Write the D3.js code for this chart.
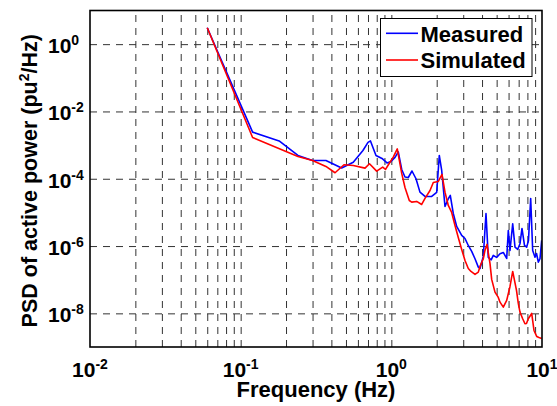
<!DOCTYPE html>
<html>
<head>
<meta charset="utf-8">
<script src="https://cdn.jsdelivr.net/npm/d3@7"></script>
<style>
body { margin: 0; background: #fff; }
svg { display: block; font-family: "Liberation Sans", Arial, sans-serif; font-weight: bold; }
</style>
</head>
<body>
<svg id="chart"></svg>
<script>
// measured PSD (blue)
var measuredFreq = [0.060, 0.120, 0.180, 0.240, 0.300, 0.368, 0.468, 0.559, 0.648, 0.700,
	0.727, 0.791, 0.867, 0.936, 0.995, 1.058, 1.112, 1.172, 1.232, 1.296,
	1.371, 1.458, 1.549, 1.673, 1.853, 2.000, 2.081, 2.159, 2.271, 2.388,
	2.462, 2.577, 2.715, 2.931, 3.083, 3.242, 3.415, 3.592, 3.778, 3.877,
	4.077, 4.249, 4.400, 4.600, 4.750, 5.000, 5.263, 5.535, 5.830, 5.974,
	6.132, 6.391, 6.620, 6.900, 7.143, 7.365, 7.652, 7.913, 8.133, 8.412,
	8.673, 8.985, 9.200, 9.450, 9.698, 9.954];
var measuredPsd = [3.07, 2.43e-3, 1.33e-3, 4.93e-4, 3.50e-4, 3.50e-4, 2.09e-4, 3.11e-4, 6.93e-4, 1.20e-3,
	1.33e-3, 4.93e-4, 4.01e-4, 2.95e-4, 3.27e-4, 4.30e-4, 6.26e-4, 1.89e-4, 1.13e-4, 1.09e-4,
	1.70e-4, 1.00e-4, 4.00e-5, 2.98e-5, 2.98e-5, 3.92e-5, 4.93e-4, 1.76e-4, 1.50e-5, 2.54e-5,
	3.19e-5, 9.31e-6, 3.82e-6, 2.07e-6, 1.68e-6, 1.04e-6, 6.91e-7, 4.19e-7, 2.36e-7, 2.16e-7,
	4.91e-7, 9.31e-6, 4.58e-7, 3.90e-7, 5.26e-7, 4.60e-7, 5.90e-7, 6.45e-7, 4.28e-7, 2.91e-6,
	7.40e-7, 4.60e-6, 9.27e-7, 8.00e-7, 1.17e-6, 3.33e-6, 1.04e-6, 9.27e-7, 1.47e-6, 2.60e-5,
	7.40e-7, 4.68e-7, 6.00e-7, 3.32e-7, 4.19e-7, 1.47e-6];

// simulated PSD (red)
var simulatedFreq = [0.060, 0.120, 0.240, 0.300, 0.368, 0.423, 0.485, 0.559, 0.669, 0.716,
	0.799, 0.876, 0.915, 0.965, 1.030, 1.095, 1.172, 1.232, 1.316, 1.365,
	1.473, 1.590, 1.673, 1.806, 1.899, 2.050, 2.169, 2.271, 2.388, 2.515,
	2.646, 2.782, 2.931, 3.083, 3.242, 3.379, 3.592, 3.778, 3.877, 4.077,
	4.184, 4.314, 4.516, 4.635, 4.875, 5.128, 5.263, 5.535, 5.830, 6.132,
	6.391, 6.772, 6.961, 7.143, 7.444, 7.709, 7.889, 8.110, 8.543, 8.850,
	9.222, 9.550, 9.954];
var simulatedPsd = [3.07, 1.69e-3, 4.60e-4, 3.50e-4, 2.32e-4, 1.51e-4, 2.61e-4, 2.48e-4, 2.07e-4, 2.79e-4,
	1.68e-4, 2.21e-4, 1.89e-4, 2.79e-4, 4.38e-4, 7.68e-4, 1.44e-4, 5.51e-5, 2.26e-5, 2.02e-5,
	2.12e-5, 1.72e-5, 2.60e-5, 4.49e-5, 7.76e-5, 8.31e-5, 1.34e-4, 4.00e-5, 1.61e-5, 9.97e-6,
	4.09e-6, 1.80e-6, 7.93e-7, 3.73e-7, 2.16e-7, 1.76e-7, 1.43e-7, 1.68e-7, 2.48e-7, 4.19e-7,
	7.40e-7, 1.12e-6, 3.04e-7, 1.02e-7, 4.27e-8, 2.97e-8, 2.15e-8, 1.53e-8, 2.42e-8, 6.30e-8,
	1.76e-7, 4.79e-8, 1.97e-8, 1.09e-8, 6.91e-9, 4.91e-9, 5.01e-9, 6.91e-9, 9.93e-9, 3.10e-9,
	2.06e-9, 1.92e-9, 1.80e-9];

var xTicks = [0.01, 0.1, 1, 10];
var xTickExp = ["-2", "-1", "0", "1"];
var yTicks = [1, 1e-2, 1e-4, 1e-6, 1e-8];
var yTickExp = ["0", "-2", "-4", "-6", "-8"];
var seriesNames = ["Measured", "Simulated"];
var seriesColors = ["#0000ff", "#ff0000"];

var svgWidth = 557, svgHeight = 406;
var plotLeft = 90, plotRight = 542, plotTop = 10.5, plotBottom = 347;

var svg = d3.select("#chart")
	.attr("width", svgWidth)
	.attr("height", svgHeight);

svg.append("rect")
	.attr("width", svgWidth)
	.attr("height", svgHeight)
	.attr("fill", "#fff");

var xScale = d3.scaleLog()
	.domain([0.01, 10])
	.range([plotLeft, plotRight]);

var yScale = d3.scaleLog()
	.domain([1e-9, 10])
	.range([plotBottom, plotTop]);

// grid: every 1..9 per decade on x, labelled decades on y
var gridX = xScale.ticks().filter(function(d) { return d > 0.01 && d < 10; });

var xGrid = svg.append("g")
	.attr("transform", "translate(0," + plotBottom + ")")
	.call(d3.axisBottom(xScale).tickValues(gridX).tickSize(-(plotBottom - plotTop)).tickFormat(""));
var yGrid = svg.append("g")
	.attr("transform", "translate(" + plotLeft + ",0)")
	.call(d3.axisLeft(yScale).tickValues(yTicks).tickSize(-(plotRight - plotLeft)).tickFormat(""));

[xGrid, yGrid].forEach(function(g) {
	g.select(".domain").remove();
	g.selectAll("line")
		.attr("stroke", "#333")
		.attr("stroke-width", 1)
		.attr("stroke-dasharray", "7,6");
});

svg.append("clipPath").attr("id", "plotclip")
	.append("rect")
	.attr("x", plotLeft).attr("y", plotTop)
	.attr("width", plotRight - plotLeft).attr("height", plotBottom - plotTop);

var line = d3.line()
	.x(function(d) { return xScale(d[0]); })
	.y(function(d) { return yScale(d[1]); });

var series = [d3.zip(measuredFreq, measuredPsd), d3.zip(simulatedFreq, simulatedPsd)];

svg.append("g")
	.attr("clip-path", "url(#plotclip)")
	.selectAll("path")
	.data(series)
	.enter()
	.append("path")
	.attr("d", line)
	.attr("fill", "none")
	.attr("stroke", function(d, i) { return seriesColors[i]; })
	.attr("stroke-width", 1.6)
	.attr("stroke-linejoin", "round");

// axes box
svg.append("rect")
	.attr("x", plotLeft).attr("y", plotTop)
	.attr("width", plotRight - plotLeft).attr("height", plotBottom - plotTop)
	.attr("fill", "none")
	.attr("stroke", "#000")
	.attr("stroke-width", 1.6);

// x tick labels
var xLab = svg.selectAll(".xlab")
	.data(xTicks)
	.enter()
	.append("text")
	.attr("class", "xlab")
	.attr("x", function(d) { return xScale(d); })
	.attr("y", plotBottom + 30)
	.attr("text-anchor", "middle");
xLab.append("tspan").attr("font-size", 21).text("10");
xLab.append("tspan").attr("font-size", 14).attr("dy", -8)
	.text(function(d, i) { return xTickExp[i]; });

// y tick labels
var yLab = svg.selectAll(".ylab")
	.data(yTicks)
	.enter()
	.append("text")
	.attr("class", "ylab")
	.attr("x", 48)
	.attr("y", function(d) { return yScale(d) + 9; });
yLab.append("tspan").attr("font-size", 21).text("10");
yLab.append("tspan").attr("font-size", 14).attr("dy", -8)
	.text(function(d, i) { return yTickExp[i]; });

// axis titles
svg.append("text")
	.attr("x", (plotLeft + plotRight) / 2)
	.attr("y", 397)
	.attr("text-anchor", "middle")
	.attr("font-size", 22)
	.text("Frequency (Hz)");

var yTitle = svg.append("text")
	.attr("transform", "translate(37," + ((plotTop + plotBottom) / 2 + 2) + ") rotate(-90)")
	.attr("text-anchor", "middle")
	.attr("font-size", 21.5);
yTitle.append("tspan").text("PSD of active power (pu");
yTitle.append("tspan").attr("font-size", 14).attr("dy", -8).text("2");
yTitle.append("tspan").attr("dy", 8).text("/Hz)");

// legend
var legend = svg.append("g");
legend.append("rect")
	.attr("x", 380.5).attr("y", 18.5)
	.attr("width", 151.5).attr("height", 58)
	.attr("fill", "#fff")
	.attr("stroke", "#000")
	.attr("stroke-width", 1);

var items = legend.selectAll(".item")
	.data(seriesNames)
	.enter()
	.append("g")
	.attr("transform", function(d, i) { return "translate(0," + (i * 26.7) + ")"; });
items.append("line")
	.attr("x1", 386).attr("x2", 418)
	.attr("y1", 33.3).attr("y2", 33.3)
	.attr("stroke", function(d, i) { return seriesColors[i]; })
	.attr("stroke-width", 1.6);
items.append("text")
	.attr("x", 420.5)
	.attr("y", 41.7)
	.attr("font-size", 22)
	.text(function(d) { return d; });
</script>
</body>
</html>
